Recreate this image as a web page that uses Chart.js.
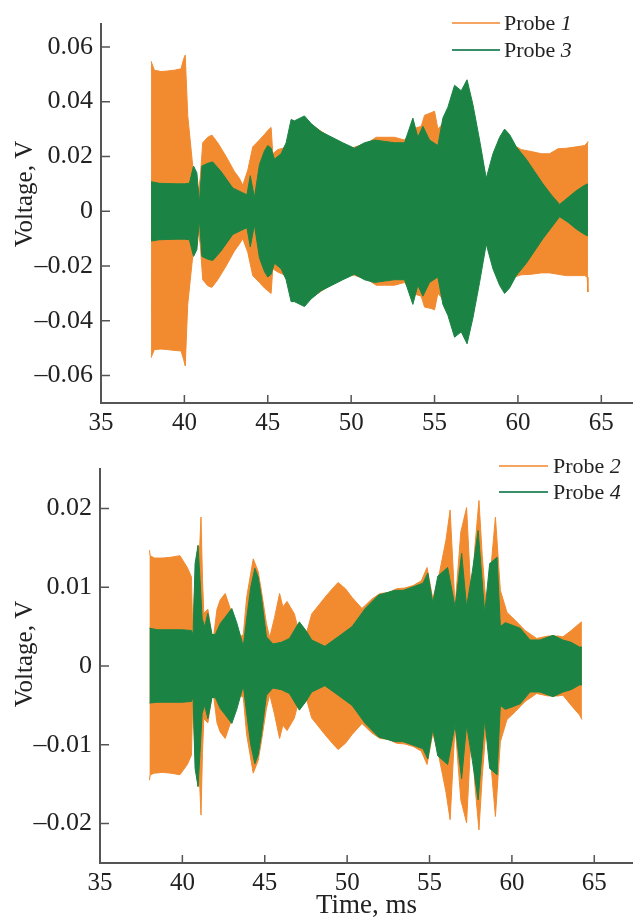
<!DOCTYPE html>
<html>
<head>
<meta charset="utf-8">
<script src="https://cdn.jsdelivr.net/npm/chart.js@4"></script>
<style>
  body { margin: 0; background: #fff; }
  canvas { display: block; }
</style>
</head>
<body>
<canvas id="top" width="633" height="440"></canvas>
<canvas id="bottom" width="633" height="483"></canvas>
<script>
// ---- data: upper / lower envelopes of each probe signal (V) vs time (ms) ----

// Probe 1 (top panel, orange)
const t1 = [38.0, 38.2, 38.6, 39.0, 39.4, 39.8, 39.95, 40.05, 40.2, 40.5, 40.8, 40.95, 41.1, 41.4, 41.65, 42.0,
  42.5, 43.0, 43.3, 43.5, 43.8, 44.1, 44.5, 44.8, 45.0, 45.2, 45.3, 45.6, 45.9, 46.2, 46.5, 47.2,
  48.0, 49.0, 50.0, 51.0, 51.5, 52.0, 52.6, 53.2, 53.7, 54.2, 54.4, 54.8, 55.0, 55.2, 55.5, 56.2,
  57.0, 57.5, 58.1, 58.5, 59.2, 59.8, 60.2, 60.8, 61.4, 61.9, 62.4, 62.9, 63.5, 64.0, 64.15, 64.2];
const p1Up = [0.0548, 0.0515, 0.051, 0.0512, 0.0515, 0.052, 0.0555, 0.057, 0.035, 0.0165, 0.006, 0.012, 0.025, 0.027, 0.0278, 0.025,
  0.020, 0.0145, 0.012, 0.0095, 0.015, 0.0235, 0.026, 0.028, 0.0295, 0.0306, 0.021, 0.0225, 0.023, 0.024, 0.030, 0.033,
  0.030, 0.026, 0.023, 0.025, 0.027, 0.027, 0.027, 0.026, 0.030, 0.031, 0.035, 0.036, 0.0365, 0.030, 0.032, 0.040,
  0.040, 0.030, 0.011, 0.018, 0.026, 0.024, 0.0225, 0.0218, 0.021, 0.021, 0.0228, 0.023, 0.0235, 0.024, 0.025, 0.0255];
const p1Lo = [-0.0535, -0.0505, -0.0503, -0.0505, -0.0508, -0.051, -0.054, -0.0565, -0.034, -0.0165, -0.006, -0.012, -0.025, -0.0272, -0.0278, -0.025,
  -0.020, -0.0145, -0.012, -0.010, -0.015, -0.0235, -0.026, -0.028, -0.029, -0.030, -0.021, -0.0222, -0.023, -0.024, -0.030, -0.033,
  -0.030, -0.026, -0.023, -0.025, -0.027, -0.027, -0.027, -0.026, -0.030, -0.031, -0.035, -0.0355, -0.036, -0.030, -0.032, -0.040,
  -0.040, -0.030, -0.011, -0.018, -0.026, -0.024, -0.0232, -0.023, -0.0225, -0.0225, -0.023, -0.0235, -0.0235, -0.0235, -0.024, -0.0295];

// Probe 3 (top panel, green)
const t3 = [38.0, 38.5, 39.0, 39.5, 40.0, 40.3, 40.55, 40.75, 40.9, 41.05, 41.4, 41.7, 42.2, 42.9, 43.4, 43.75,
  43.95, 44.2, 44.5, 44.8, 45.0, 45.2, 45.4, 45.8, 46.1, 46.4, 46.6, 47.2, 47.6, 48.2, 48.85, 49.5,
  50.2, 50.8, 51.4, 52.0, 52.6, 53.2, 53.7, 54.0, 54.3, 54.7, 55.2, 55.5, 55.8, 56.2, 56.6, 56.95,
  57.3, 57.7, 58.1, 58.5, 58.9, 59.2, 59.5, 59.9, 60.5, 61.0, 61.5, 62.0, 62.5, 63.0, 63.5, 64.0, 64.2];
const p3Up = [0.0108, 0.0102, 0.0101, 0.0100, 0.0100, 0.0102, 0.0165, 0.014, 0.003, 0.0165, 0.0175, 0.018, 0.0145, 0.0085, 0.007, 0.006,
  0.013, 0.005, 0.017, 0.022, 0.024, 0.023, 0.019, 0.021, 0.025, 0.0335, 0.033, 0.0348, 0.032, 0.029, 0.027, 0.025,
  0.023, 0.025, 0.026, 0.0255, 0.025, 0.025, 0.034, 0.027, 0.031, 0.026, 0.024, 0.034, 0.038, 0.046, 0.044, 0.048,
  0.039, 0.026, 0.012, 0.021, 0.027, 0.030, 0.028, 0.0235, 0.019, 0.0145, 0.010, 0.006, 0.0025, 0.005, 0.0075, 0.0095, 0.0100];
const p3Lo = [-0.0109, -0.0104, -0.0103, -0.0102, -0.0102, -0.0104, -0.0165, -0.014, -0.003, -0.0165, -0.0175, -0.018, -0.0145, -0.0085, -0.007, -0.006,
  -0.013, -0.005, -0.017, -0.022, -0.024, -0.023, -0.019, -0.021, -0.025, -0.033, -0.033, -0.0348, -0.032, -0.029, -0.027, -0.025,
  -0.023, -0.025, -0.026, -0.0255, -0.025, -0.025, -0.034, -0.027, -0.031, -0.026, -0.024, -0.034, -0.038, -0.046, -0.044, -0.0484,
  -0.039, -0.026, -0.012, -0.021, -0.027, -0.030, -0.028, -0.0235, -0.019, -0.0145, -0.010, -0.006, -0.002, -0.004, -0.0065, -0.0085, -0.009];

// Probe 2 (bottom panel, orange)
const t2 = [38.0, 38.05, 38.3, 38.8, 39.3, 39.85, 40.3, 40.55, 40.62, 40.8, 40.95, 41.05, 41.13, 41.22, 41.3, 41.55,
  41.85, 42.1, 42.3, 42.6, 43.0, 43.5, 43.7, 43.9, 44.3, 44.6, 44.8, 45.1, 45.3, 45.6, 45.9, 46.1,
  46.35, 46.8, 47.3, 47.85, 48.65, 49.1, 49.45, 49.9, 50.3, 50.9, 51.5, 52.0, 52.5, 53.0, 53.5, 54.0,
  54.5, 54.85, 55.2, 55.6, 56.0, 56.25, 56.55, 56.9, 57.25, 57.55, 57.75, 58.0, 58.2, 58.5, 58.75, 59.0,
  59.3, 59.7, 60.2, 60.8, 61.5, 62.2, 62.8, 63.1, 63.6, 64.1, 64.25];
const p2Up = [0.0147, 0.0140, 0.0137, 0.0137, 0.0138, 0.0140, 0.0125, 0.0113, 0.005, 0.012, 0.0153, 0.015, 0.0189, 0.011, 0.0067, 0.0072,
  0.003, 0.0072, 0.0084, 0.0092, 0.0067, 0.0037, 0.004, 0.0087, 0.0136, 0.012, 0.0095, 0.0054, 0.0036, 0.0062, 0.0092, 0.0075,
  0.0082, 0.0066, 0.0024, 0.0066, 0.0087, 0.0098, 0.0106, 0.0098, 0.0087, 0.0073, 0.0085, 0.0092, 0.0093, 0.0098, 0.0099, 0.0102,
  0.0108, 0.0125, 0.0085, 0.0118, 0.016, 0.0198, 0.0075, 0.017, 0.0201, 0.0075, 0.015, 0.021, 0.014, 0.006, 0.013, 0.0189,
  0.0096, 0.0068, 0.0058, 0.0045, 0.0035, 0.0038, 0.0038, 0.0037, 0.0045, 0.0054, 0.0056];
const p2Lo = [-0.0145, -0.0138, -0.0136, -0.0135, -0.0136, -0.0138, -0.0125, -0.0113, -0.005, -0.012, -0.0153, -0.015, -0.0189, -0.011, -0.0067, -0.0072,
  -0.003, -0.0072, -0.0084, -0.0092, -0.0067, -0.0037, -0.004, -0.0087, -0.0136, -0.012, -0.0095, -0.0054, -0.0036, -0.0062, -0.0092, -0.0075,
  -0.0082, -0.0066, -0.0024, -0.0066, -0.0087, -0.0098, -0.0106, -0.0098, -0.0087, -0.0073, -0.0085, -0.0092, -0.0093, -0.0098, -0.0099, -0.0102,
  -0.0108, -0.0125, -0.0085, -0.0118, -0.016, -0.0195, -0.0075, -0.017, -0.0199, -0.0075, -0.015, -0.0208, -0.014, -0.006, -0.013, -0.0191,
  -0.0096, -0.0068, -0.0058, -0.0045, -0.0035, -0.0038, -0.0038, -0.0037, -0.005, -0.0062, -0.0068];

// Probe 4 (bottom panel, green)
const t4 = [38.0, 38.5, 39.0, 39.5, 40.0, 40.55, 40.65, 40.77, 40.95, 41.07, 41.2, 41.35, 41.55, 41.8, 42.0, 42.3,
  42.6, 43.0, 43.3, 43.7, 43.9, 44.15, 44.4, 44.6, 44.8, 45.1, 45.5, 46.0, 46.5, 47.1, 47.5, 47.85,
  48.65, 49.45, 50.3, 51.1, 51.9, 52.9, 53.4, 53.8, 54.6, 54.9, 55.2, 55.5, 56.1, 56.55, 56.95, 57.25,
  57.6, 57.95, 58.35, 58.65, 59.1, 59.3, 59.6, 60.0, 60.5, 61.1, 61.7, 62.5, 63.1, 63.6, 64.1, 64.25];
const p4Up = [0.0048, 0.0046, 0.0046, 0.0046, 0.0046, 0.0045, 0.004, 0.013, 0.0153, 0.011, 0.006, 0.005, 0.0067, 0.004, 0.004, 0.0054,
  0.0062, 0.0073, 0.0055, 0.0025, 0.006, 0.010, 0.0124, 0.0113, 0.0087, 0.0037, 0.0028, 0.003, 0.0035, 0.0056, 0.0045, 0.0033,
  0.0025, 0.0037, 0.005, 0.0073, 0.009, 0.0096, 0.0096, 0.0099, 0.0105, 0.0118, 0.008, 0.0114, 0.0125, 0.0075, 0.0143, 0.0075,
  0.012, 0.0172, 0.0067, 0.013, 0.0138, 0.005, 0.0055, 0.0052, 0.0048, 0.0033, 0.0033, 0.0039, 0.0033, 0.003, 0.0024, 0.0024];
const p4Lo = [-0.0047, -0.0046, -0.0046, -0.0046, -0.0046, -0.0045, -0.004, -0.013, -0.0153, -0.011, -0.006, -0.005, -0.0067, -0.004, -0.004, -0.0054,
  -0.0062, -0.0073, -0.0055, -0.0025, -0.006, -0.010, -0.0124, -0.0113, -0.0087, -0.0037, -0.0028, -0.003, -0.0035, -0.0056, -0.0045, -0.0033,
  -0.0025, -0.0037, -0.005, -0.0073, -0.009, -0.0096, -0.0096, -0.0099, -0.0105, -0.0118, -0.008, -0.0114, -0.0125, -0.0075, -0.0143, -0.0075,
  -0.012, -0.017, -0.0067, -0.013, -0.0138, -0.005, -0.0055, -0.0052, -0.0048, -0.0033, -0.0033, -0.0039, -0.0033, -0.003, -0.0024, -0.0024];

// ---- ticks ----
const xTicks = [35, 40, 45, 50, 55, 60, 65];
const topYTicks = [-0.06, -0.04, -0.02, 0, 0.02, 0.04, 0.06];
const topYLabels = ['–0.06', '–0.04', '–0.02', '0', '0.02', '0.04', '0.06'];
const botYTicks = [-0.02, -0.01, 0, 0.01, 0.02];
const botYLabels = ['–0.02', '–0.01', '0', '0.01', '0.02'];

const ORANGE = '#f28a30';
const GREEN = '#1b8444';
const AXIS = '#555';
const TEXT = '#222';
const FONT = "'Liberation Serif', 'Times New Roman', serif";

function pts(t, v) {
  return t.map((x, i) => ({ x: x, y: v[i] }));
}

// upper envelope filled down to the lower envelope (next dataset)
function band(label, t, up, lo, color, order) {
  const base = {
    label: label, borderColor: color, backgroundColor: color, borderWidth: 1,
    pointRadius: 0, tension: 0, order: order
  };
  return [
    Object.assign({ data: pts(t, up), fill: '+1' }, base),
    Object.assign({ data: pts(t, lo), fill: false }, base)
  ];
}

// inward tick marks, axis titles and the legend with italic probe numbers
const decor = {
  id: 'decor',
  afterDraw(chart, args, opts) {
    const ctx = chart.ctx;
    const a = chart.chartArea;
    const x = chart.scales.x, y = chart.scales.y;
    ctx.save();
    ctx.strokeStyle = AXIS;
    ctx.lineWidth = 1.5;
    ctx.beginPath();
    x.ticks.forEach(t => {
      const px = x.getPixelForValue(t.value);
      ctx.moveTo(px, a.bottom);
      ctx.lineTo(px, a.bottom - 8);
    });
    y.ticks.forEach(t => {
      const py = y.getPixelForValue(t.value);
      ctx.moveTo(a.left, py);
      ctx.lineTo(a.left + 9, py);
    });
    ctx.stroke();

    ctx.fillStyle = TEXT;
    ctx.font = '25px ' + FONT;
    ctx.textAlign = 'center';
    ctx.textBaseline = 'middle';
    ctx.save();
    ctx.translate(opts.yTitle.x, opts.yTitle.y);
    ctx.rotate(-Math.PI / 2);
    ctx.fillText(opts.yTitle.text, 0, 0);
    ctx.restore();
    if (opts.xTitle) {
      ctx.font = '27px ' + FONT;
      ctx.fillText(opts.xTitle.text, (a.left + a.right) / 2, opts.xTitle.y);
    }

    const lg = opts.legend;
    ctx.textAlign = 'left';
    lg.items.forEach(it => {
      ctx.strokeStyle = it.color;
      ctx.lineWidth = 2;
      ctx.beginPath();
      ctx.moveTo(lg.x0, it.y);
      ctx.lineTo(lg.x1, it.y);
      ctx.stroke();
      ctx.fillStyle = TEXT;
      ctx.font = '22px ' + FONT;
      ctx.fillText('Probe ', lg.tx, it.y + 1);
      const w = ctx.measureText('Probe ').width;
      ctx.font = 'italic 22px ' + FONT;
      ctx.fillText(it.num, lg.tx + w, it.y + 1);
    });
    ctx.restore();
  }
};

function makeChart(id, cfg) {
  return new Chart(document.getElementById(id), {
    type: 'line',
    data: { datasets: cfg.datasets },
    plugins: [decor],
    options: {
      responsive: false,
      animation: false,
      devicePixelRatio: 1,
      layout: { padding: { top: cfg.padTop, right: 0, left: 0, bottom: 0 } },
      plugins: {
        legend: { display: false },
        tooltip: { enabled: false },
        decor: cfg.decor
      },
      scales: {
        x: {
          type: 'linear',
          min: 35,
          max: cfg.xMax,
          afterBuildTicks: s => { s.ticks = xTicks.map(v => ({ value: v })); },
          afterFit: s => { s.height = cfg.xHeight; },
          grid: { display: false, drawTicks: false },
          border: { color: AXIS, width: 2 },
          ticks: {
            color: TEXT, padding: 5, maxRotation: 0, autoSkip: false,
            font: { family: FONT, size: 25 }
          }
        },
        y: {
          type: 'linear',
          min: cfg.yMin,
          max: cfg.yMax,
          afterBuildTicks: s => { s.ticks = cfg.yTicks.map(v => ({ value: v })); },
          afterFit: s => { s.width = cfg.yWidth; },
          grid: { display: false, drawTicks: false },
          border: { color: AXIS, width: 2 },
          ticks: {
            color: TEXT, padding: 8, autoSkip: false,
            font: { family: FONT, size: 26 },
            callback: (v, i) => cfg.yLabels[i]
          }
        }
      }
    }
  });
}

makeChart('top', {
  datasets: band('Probe 1', t1, p1Up, p1Lo, ORANGE, 2).concat(band('Probe 3', t3, p3Up, p3Lo, GREEN, 1)),
  padTop: 9, xMax: 66.9, xHeight: 37, yWidth: 101,
  yMin: -0.07, yMax: 0.0685, yTicks: topYTicks, yLabels: topYLabels,
  decor: {
    yTitle: { text: 'Voltage, V', x: 25, y: 194 },
    legend: { x0: 452, x1: 500, tx: 504, items: [
      { color: '#f5a561', num: '1', y: 23 },
      { color: '#3a8f6a', num: '3', y: 50 }
    ] }
  }
});

makeChart('bottom', {
  datasets: band('Probe 2', t2, p2Up, p2Lo, ORANGE, 2).concat(band('Probe 4', t4, p4Up, p4Lo, GREEN, 1)),
  padTop: 29, xMax: 67.35, xHeight: 60, yWidth: 100,
  yMin: -0.025, yMax: 0.025, yTicks: botYTicks, yLabels: botYLabels,
  decor: {
    yTitle: { text: 'Voltage, V', x: 25, y: 214 },
    xTitle: { text: 'Time, ms', y: 466 },
    legend: { x0: 499, x1: 548, tx: 553, items: [
      { color: '#f5a561', num: '2', y: 26 },
      { color: '#3a8f6a', num: '4', y: 52 }
    ] }
  }
});
</script>
</body>
</html>
